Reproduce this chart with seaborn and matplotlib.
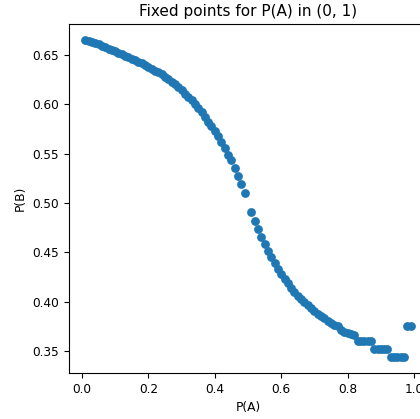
import matplotlib
matplotlib.use("Agg")
import matplotlib.pyplot as plt
import seaborn as sns
import pandas as pd

# P(A) values (0.50 has no point in the picture)
p_a = [0.01, 0.02, 0.03, 0.04, 0.05, 0.06, 0.07, 0.08, 0.09, 0.10,
       0.11, 0.12, 0.13, 0.14, 0.15, 0.16, 0.17, 0.18, 0.19, 0.20,
       0.21, 0.22, 0.23, 0.24, 0.25, 0.26, 0.27, 0.28, 0.29, 0.30,
       0.31, 0.32, 0.33, 0.34, 0.35, 0.36, 0.37, 0.38, 0.39, 0.40,
       0.41, 0.42, 0.43, 0.44, 0.45, 0.46, 0.47, 0.48, 0.49,
       0.51, 0.52, 0.53, 0.54, 0.55, 0.56, 0.57, 0.58, 0.59, 0.60,
       0.61, 0.62, 0.63, 0.64, 0.65, 0.66, 0.67, 0.68, 0.69, 0.70,
       0.71, 0.72, 0.73, 0.74, 0.75, 0.76, 0.77, 0.78, 0.79, 0.80,
       0.81, 0.82, 0.83, 0.84, 0.85, 0.86, 0.87, 0.88, 0.89, 0.90,
       0.91, 0.92, 0.93, 0.94, 0.95, 0.96, 0.97, 0.98, 0.99]

# fixed point P(B) for each P(A)
p_b = [0.665, 0.664, 0.663, 0.662, 0.661, 0.659, 0.658, 0.656, 0.655, 0.654,
       0.652, 0.651, 0.649, 0.648, 0.646, 0.645, 0.643, 0.642, 0.640, 0.638,
       0.636, 0.634, 0.632, 0.630, 0.627, 0.625, 0.622, 0.620, 0.617, 0.614,
       0.610, 0.607, 0.604, 0.600, 0.596, 0.592, 0.587, 0.582, 0.578, 0.573,
       0.568, 0.562, 0.556, 0.549, 0.543, 0.535, 0.527, 0.519, 0.510,
       0.491, 0.482, 0.474, 0.466, 0.458, 0.451, 0.445, 0.439, 0.433, 0.428,
       0.423, 0.419, 0.414, 0.410, 0.406, 0.403, 0.400, 0.397, 0.394, 0.391,
       0.388, 0.386, 0.384, 0.381, 0.379, 0.377, 0.375, 0.371, 0.369, 0.368,
       0.367, 0.366, 0.360, 0.360, 0.360, 0.360, 0.360, 0.352, 0.352, 0.352,
       0.352, 0.352, 0.344, 0.344, 0.344, 0.344, 0.344, 0.375, 0.375]

df = pd.DataFrame({"P(A)": p_a, "P(B)": p_b})

fig = plt.figure(figsize=(4.2, 4.19), dpi=100)
# the reference is clipped on the right, so the axes run past the edge
ax = fig.add_axes([69 / 420, 46 / 419, 358 / 420, 349 / 419])

sns.scatterplot(data=df, x="P(A)", y="P(B)", ax=ax, s=40,
                color="#1f77b4", linewidth=0)

ax.set_title("Fixed points for P(A) in (0, 1)", fontsize=11)
ax.set_xlabel("P(A)", fontsize=8.8)
ax.set_ylabel("P(B)", fontsize=8.8)
ax.tick_params(labelsize=8.7)
ax.set_xticks([0.0, 0.2, 0.4, 0.6, 0.8, 1.0])
ax.set_yticks([0.35, 0.40, 0.45, 0.50, 0.55, 0.60, 0.65])

fig.savefig("out.png", dpi=100)
